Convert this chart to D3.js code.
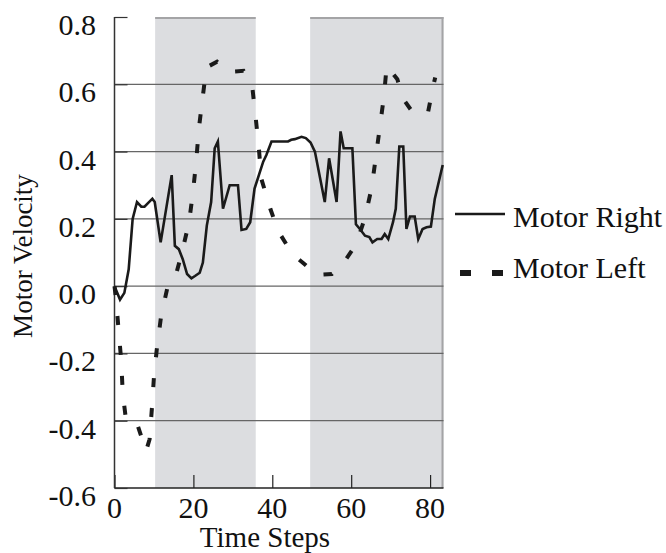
<!DOCTYPE html>
<html>
<head>
<meta charset="utf-8">
<script src="https://cdn.jsdelivr.net/npm/d3@7"></script>
<style>
  html, body { margin: 0; padding: 0; background: #fff; }
  svg { display: block; }
</style>
</head>
<body>
<div id="chart"></div>
<script>
// time steps and velocities
const rightSteps = [0, 1.4, 2.5, 3.6, 4.6, 5.7, 6.8, 7.6, 9.6, 10.2, 11.7, 14.5, 15.3, 16.3, 17.3, 18.4, 19.5, 20.4, 21.6, 22.4, 23.4, 24.5, 25.4, 26.2, 27.5, 29.2, 31.3, 32.2, 33.4, 34.4, 35.5, 36.6, 37.7, 38.5, 39.8, 44, 44.8, 45.7, 47.4, 48.5, 49.7, 50.8, 53.3, 54.4, 56.3, 57.3, 58.1, 60.3, 61.2, 62.2, 63.5, 64.6, 65.4, 66.6, 67.7, 68.5, 69.4, 70.6, 71.3, 72.2, 73.2, 74, 74.9, 76.1, 77, 78.1, 79.1, 80.2, 81.2, 82, 83.2];
const rightValues = [0.0, -0.04, -0.02, 0.05, 0.2, 0.25, 0.236, 0.236, 0.26, 0.25, 0.13, 0.33, 0.12, 0.11, 0.08, 0.036, 0.023, 0.03, 0.04, 0.07, 0.18, 0.25, 0.41, 0.43, 0.23, 0.3, 0.3, 0.167, 0.17, 0.19, 0.29, 0.33, 0.37, 0.39, 0.43, 0.43, 0.435, 0.437, 0.444, 0.44, 0.427, 0.4, 0.25, 0.38, 0.25, 0.46, 0.41, 0.41, 0.184, 0.17, 0.15, 0.146, 0.13, 0.14, 0.14, 0.155, 0.14, 0.19, 0.23, 0.415, 0.415, 0.17, 0.207, 0.207, 0.14, 0.17, 0.175, 0.177, 0.26, 0.3, 0.36];

const leftSteps = [0, 0.4, 1.1, 1.7, 2.1, 3, 3.8, 5.9, 8, 8.9, 9.5, 10, 10.7, 11.8, 13.5, 15.5, 17.3, 18.9, 19.9, 20.7, 21.4, 22.3, 23.3, 26, 29, 32.7, 34.9, 35.8, 36.6, 37.2, 39.5, 41.5, 45.1, 48.2, 51.3, 55.1, 58.1, 61.3, 63.5, 65.2, 66.2, 67.3, 68.3, 69, 71.7, 73.2, 76, 79.5, 80.8, 81.3];
const leftValues = [0.0, -0.04, -0.14, -0.22, -0.32, -0.405, -0.41, -0.415, -0.49, -0.455, -0.36, -0.27, -0.19, -0.09, 0.0, 0.03, 0.11, 0.19, 0.28, 0.37, 0.47, 0.556, 0.65, 0.667, 0.637, 0.64, 0.595, 0.5, 0.41, 0.32, 0.23, 0.164, 0.095, 0.065, 0.033, 0.036, 0.07, 0.125, 0.204, 0.293, 0.38, 0.476, 0.564, 0.655, 0.615, 0.556, 0.51, 0.518, 0.595, 0.62];

// shaded phases
const shadeStart = [10.3, 49.6];
const shadeEnd = [35.8, 83.4];

const xTicks = [0, 20, 40, 60, 80];
const yTicks = [-0.6, -0.4, -0.2, 0.0, 0.2, 0.4, 0.6, 0.8];
const seriesNames = ["Motor Right", "Motor Left"];

const width = 666, height = 553;
const margin = { left: 114.5, right: 222.5, top: 17, bottom: 65 };
const font = "'Liberation Serif', 'Times New Roman', serif";

const svg = d3.select("#chart").append("svg")
    .attr("width", width)
    .attr("height", height);

const x = d3.scaleLinear().domain([0, 83.4]).range([margin.left, width - margin.right]);
const y = d3.scaleLinear().domain([-0.6, 0.8]).range([height - margin.bottom, margin.top]);

// gray bands
shadeStart.forEach((s, i) => {
    svg.append("rect")
        .attr("x", x(s))
        .attr("y", y(0.8))
        .attr("width", x(shadeEnd[i]) - x(s))
        .attr("height", y(-0.6) - y(0.8))
        .attr("fill", "#dcdde0");
    // darker edge along the top
    svg.append("line")
        .attr("x1", x(s)).attr("x2", x(shadeEnd[i]))
        .attr("y1", y(0.8) + 1).attr("y2", y(0.8) + 1)
        .attr("stroke", "#a4a4a6").attr("stroke-width", 2);
});
svg.append("line")
    .attr("x1", x(83.4) - 1).attr("x2", x(83.4) - 1)
    .attr("y1", y(0.8)).attr("y2", y(-0.6))
    .attr("stroke", "#a4a4a6").attr("stroke-width", 2);

// gridlines
svg.append("g")
    .selectAll("line")
    .data(yTicks.filter(d => d > -0.6 && d < 0.8))
    .join("line")
    .attr("x1", x(0)).attr("x2", x(83.4))
    .attr("y1", d => y(d)).attr("y2", d => y(d))
    .attr("stroke", "#666").attr("stroke-width", 1.2);

// axes with inward ticks
const xAxis = svg.append("g")
    .attr("transform", `translate(0,${y(-0.6)})`)
    .call(d3.axisTop(x).tickValues(xTicks).tickSize(13).tickFormat(""));
xAxis.select(".domain").attr("d", `M${x(0)},0H${x(83.4)}`).attr("stroke", "#222").attr("stroke-width", 1.5);
xAxis.selectAll(".tick line").attr("stroke", "#222").attr("stroke-width", 1.2);

const yAxis = svg.append("g")
    .attr("transform", `translate(${x(0)},0)`)
    .call(d3.axisRight(y).tickValues(yTicks).tickSize(13).tickFormat(""));
yAxis.select(".domain").attr("d", `M0,${y(0.8)}V${y(-0.6)}`).attr("stroke", "#333").attr("stroke-width", 1.5);
yAxis.selectAll(".tick line").attr("stroke", "#333").attr("stroke-width", 1.2);

// tick labels (plain hyphen for negatives, as in the figure)
const fmt = d => d.toFixed(1);

svg.append("g")
    .selectAll("text")
    .data(yTicks)
    .join("text")
    .attr("x", 96)
    .attr("y", d => y(d) + 18)
    .attr("text-anchor", "end")
    .style("font-family", font)
    .style("font-size", "30px")
    .style("fill", "#111")
    .text(fmt);

svg.append("g")
    .selectAll("text")
    .data(xTicks)
    .join("text")
    .attr("x", d => x(d))
    .attr("y", 518)
    .attr("text-anchor", "middle")
    .style("font-family", font)
    .style("font-size", "30px")
    .style("fill", "#111")
    .text(d => d);

// axis titles
svg.append("text")
    .attr("x", 265).attr("y", 547)
    .attr("text-anchor", "middle")
    .style("font-family", font)
    .style("font-size", "29px")
    .style("fill", "#111")
    .text("Time Steps");

svg.append("text")
    .attr("transform", "translate(32,256) rotate(-90)")
    .attr("text-anchor", "middle")
    .style("font-family", font)
    .style("font-size", "27px")
    .style("fill", "#111")
    .text("Motor Velocity");

// series
const line = d3.line()
    .x(d => x(d[0]))
    .y(d => y(d[1]));

svg.append("path")
    .datum(leftSteps.map((t, i) => [t, leftValues[i]]))
    .attr("d", line)
    .attr("fill", "none")
    .attr("stroke", "#1a1a1a")
    .attr("stroke-width", 4)
    .attr("stroke-dasharray", "9,21");

svg.append("path")
    .datum(rightSteps.map((t, i) => [t, rightValues[i]]))
    .attr("d", line)
    .attr("fill", "none")
    .attr("stroke", "#1a1a1a")
    .attr("stroke-width", 2.6)
    .attr("stroke-linejoin", "miter");

// legend
const legend = svg.append("g");
legend.append("line")
    .attr("x1", 455).attr("x2", 505)
    .attr("y1", 214).attr("y2", 214)
    .attr("stroke", "#1a1a1a").attr("stroke-width", 2.4);
legend.append("line")
    .attr("x1", 460).attr("x2", 503)
    .attr("y1", 273).attr("y2", 273)
    .attr("stroke", "#1a1a1a").attr("stroke-width", 6)
    .attr("stroke-dasharray", "11,21");
legend.selectAll("text")
    .data(seriesNames)
    .join("text")
    .attr("x", 513)
    .attr("y", (d, i) => i === 0 ? 227 : 278)
    .style("font-family", font)
    .style("font-size", "30px")
    .style("fill", "#111")
    .text(d => d);
</script>
</body>
</html>
